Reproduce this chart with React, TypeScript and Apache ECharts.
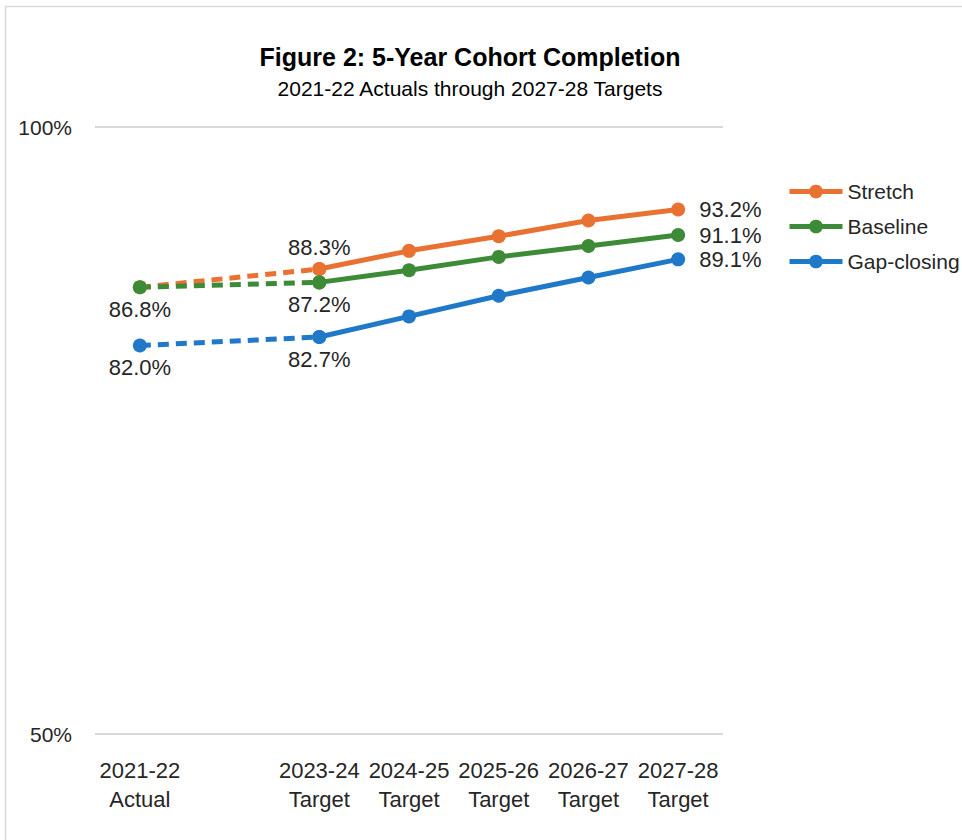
import React, { useEffect, useRef } from "react";
import * as echarts from "echarts";

const categories = ["2021-22\nActual", "2022-23", "2023-24\nTarget", "2024-25\nTarget", "2025-26\nTarget", "2026-27\nTarget", "2027-28\nTarget"];
const categoryLabels = ["2021-22\nActual", "", "2023-24\nTarget", "2024-25\nTarget", "2025-26\nTarget", "2026-27\nTarget", "2027-28\nTarget"];

const stretch = [86.8, null, 88.3, 89.8, 91.0, 92.3, 93.2];
const baseline = [86.8, null, 87.2, 88.2, 89.3, 90.2, 91.1];
const gapClosing = [82.0, null, 82.7, 84.4, 86.1, 87.6, 89.1];

const yTicks = [50, 100];

const FONT = "'Liberation Sans', Arial, sans-serif";
const COLORS = { stretch: "#E97132", baseline: "#3D8B37", gap: "#1F78C8" };

type LabelPos = "top" | "bottom" | "right" | null;

function buildSeries(
  name: string,
  values: (number | null)[],
  color: string,
  labels: LabelPos[]
) {
  const mk = (i: number, v: number | null) => {
    const pos = labels[i];
    return {
      value: v,
      label: pos
        ? {
            show: true,
            position: pos,
            distance: pos === "right" ? 14 : 4,
            formatter: (p: any) => Number(p.value).toFixed(1) + "%",
            fontFamily: FONT,
            fontSize: 22,
            color: "#262626",
          }
        : { show: false },
    };
  };
  const dashed = values.map((v, i) => (i <= 2 ? mk(i, v) : null));
  const solid = values.map((v, i) => (i >= 2 ? mk(i, v) : null));
  const common = {
    type: "line",
    symbol: "circle",
    symbolSize: 14,
    itemStyle: { color },
    emphasis: { disabled: true },
  };
  return [
    {
      ...common,
      name: name + " (actual)",
      data: dashed.map((d, i) => (i === 2 && d ? { ...d, label: { show: false } } : d)),
      connectNulls: true,
      lineStyle: { color, width: 5, type: [11, 7] },
    },
    {
      ...common,
      name,
      data: solid,
      lineStyle: { color, width: 5 },
    },
  ];
}

export default function App() {
  const ref = useRef<HTMLDivElement>(null);
  useEffect(() => {
    document.body.style.margin = "0";
    if (!ref.current) return;
    const chart = echarts.init(ref.current, undefined, { renderer: "svg" });
    const series = [
      ...buildSeries("Stretch", stretch, COLORS.stretch, [null, null, "top", null, null, null, "right"]),
      ...buildSeries("Baseline", baseline, COLORS.baseline, ["bottom", null, "bottom", null, null, null, "right"]),
      ...buildSeries("Gap-closing", gapClosing, COLORS.gap, ["bottom", null, "bottom", null, null, null, "right"]),
    ];
    chart.setOption({
      animation: false,
      backgroundColor: "#ffffff",
      title: [
        {
          text: "Figure 2: 5-Year Cohort Completion",
          left: 465,
          top: 39,
          textAlign: "center",
          textStyle: { fontFamily: FONT, fontSize: 25, fontWeight: "bold", color: "#000000" },
        },
        {
          text: "2021-22 Actuals through 2027-28 Targets",
          left: 465,
          top: 73,
          textAlign: "center",
          textStyle: { fontFamily: FONT, fontSize: 21, fontWeight: "normal", color: "#000000" },
        },
      ],
      graphic: [
        {
          type: "rect",
          shape: { x: 5.5, y: 6.5, width: 1000, height: 900 },
          style: { fill: "none", stroke: "#D9D9D9", lineWidth: 1.5 },
          silent: true,
          z: -10,
        },
      ],
      legend: {
        data: ["Stretch", "Baseline", "Gap-closing"],
        orient: "vertical",
        left: 787,
        top: 181,
        padding: 0,
        itemWidth: 53,
        itemHeight: 17,
        itemGap: 14,
        lineStyle: { width: 5 },
        textStyle: { fontFamily: FONT, fontSize: 21, color: "#262626" },
        selectedMode: false,
      },
      grid: { left: 95, right: 239, top: 127, bottom: 106, containLabel: false },
      xAxis: {
        type: "category",
        data: categories,
        boundaryGap: true,
        axisLine: { show: false },
        axisTick: { show: false },
        axisLabel: {
          interval: 0,
          margin: 22,
          fontFamily: FONT,
          fontSize: 22,
          lineHeight: 29,
          color: "#262626",
          formatter: (_v: string, i: number) => categoryLabels[i],
        },
      },
      yAxis: {
        type: "value",
        min: yTicks[0],
        max: yTicks[1],
        interval: yTicks[1] - yTicks[0],
        axisLine: { show: false },
        axisTick: { show: false },
        axisLabel: {
          margin: 23,
          fontFamily: FONT,
          fontSize: 21,
          color: "#262626",
          formatter: "{value}%",
        },
        splitLine: { lineStyle: { color: "#D9D9D9", width: 2 } },
      },
      series,
    });
    return () => chart.dispose();
  }, []);
  return <div ref={ref} style={{ width: 962, height: 840 }} />;
}
